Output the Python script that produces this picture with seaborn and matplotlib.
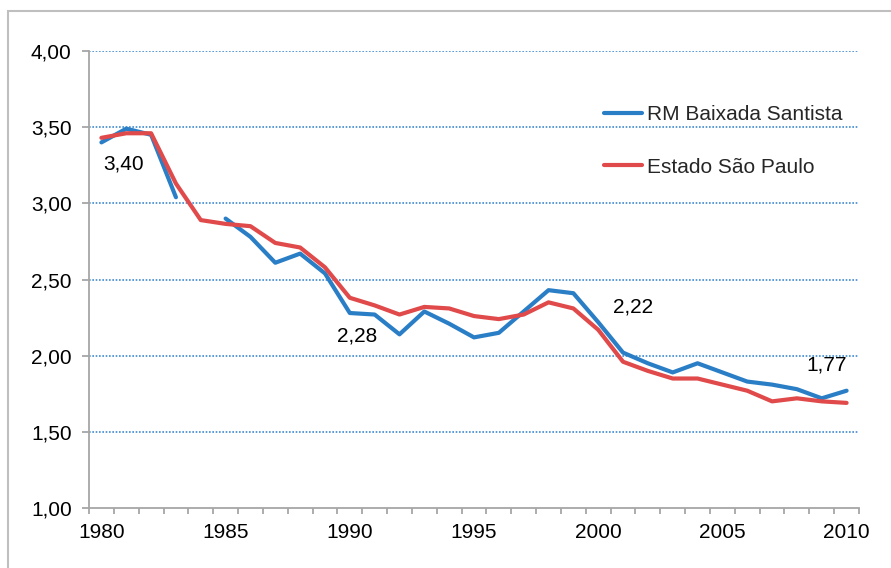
import numpy as np
import pandas as pd
import matplotlib
matplotlib.use("Agg")
import matplotlib.pyplot as plt
import matplotlib.ticker as mticker
from matplotlib.patches import Rectangle
import seaborn as sns

years = list(range(1980, 2011))
rm_baixada = [3.40, 3.49, 3.45, 3.04, np.nan, 2.90, 2.78, 2.61, 2.67, 2.54,
              2.28, 2.27, 2.14, 2.29, 2.21, 2.12, 2.15, 2.29, 2.43, 2.41,
              2.22, 2.02, 1.95, 1.89, 1.95, 1.89, 1.83, 1.81, 1.78, 1.72,
              1.77]
estado_sp = [3.43, 3.46, 3.46, 3.13, 2.89, 2.865, 2.85, 2.74, 2.71, 2.58,
             2.38, 2.33, 2.27, 2.32, 2.31, 2.26, 2.24, 2.27, 2.35, 2.31,
             2.17, 1.96, 1.90, 1.85, 1.85, 1.81, 1.77, 1.70, 1.72, 1.70,
             1.69]
series_names = ["RM Baixada Santista", "Estado São Paulo"]
labelled_years = [1980, 1990, 2000, 2010]
label_pos = {1980: (1980.9, 3.26), 1990: (1990.3, 2.13),
             2000: (2001.4, 2.32), 2010: (2009.2, 1.94)}
y_ticks = [1.0, 1.5, 2.0, 2.5, 3.0, 3.5, 4.0]
x_ticks = [1980, 1985, 1990, 1995, 2000, 2005, 2010]

rows = []
for name, vals in zip(series_names, [rm_baixada, estado_sp]):
    seg = 0
    for y, v in zip(years, vals):
        if np.isnan(v):
            seg += 1
            continue
        rows.append({"year": y, "value": v, "series": name, "seg": f"{name}-{seg}"})
df = pd.DataFrame(rows)

sns.set_theme(style="white")
plt.rcParams["font.family"] = ["Liberation Sans", "DejaVu Sans"]

FS = 15

fig = plt.figure(figsize=(8.91, 5.68), dpi=100)
ax = fig.add_axes([89/891, 1 - 508/568, (859-89)/891, (508-51)/568])

palette = {"RM Baixada Santista": "#2A7EC6", "Estado São Paulo": "#E04A4A"}
sns.lineplot(data=df, x="year", y="value", hue="series", units="seg",
             estimator=None, palette=palette, hue_order=series_names,
             linewidth=3.0, ax=ax, legend=True)

ax.set_xlim(1979.5, 2010.5)
ax.set_ylim(1.0, 4.0)
ax.set_xlabel("")
ax.set_ylabel("")
ax.set_yticks(y_ticks)
ax.set_xticks(x_ticks)
ax.set_xticks(np.arange(1979.5, 2011, 1.0), minor=True)
ax.yaxis.set_major_formatter(mticker.FuncFormatter(lambda v, p: f"{v:.2f}".replace(".", ",")))

for yv in y_ticks[1:]:
    ax.axhline(yv, color="#3F8AD0", linestyle=(0, (1, 1)), linewidth=1.2, zorder=0)

for s in ["top", "right"]:
    ax.spines[s].set_visible(False)
for s in ["left", "bottom"]:
    ax.spines[s].set_color("#A6A6A6")
    ax.spines[s].set_linewidth(1.3)

ax.tick_params(axis="y", which="major", length=5, width=1.3, color="#A6A6A6",
               labelsize=FS, pad=7.5, labelcolor="black", left=True)
ax.tick_params(axis="x", which="major", length=0, labelsize=FS, pad=10.5, labelcolor="black")
ax.tick_params(axis="x", which="minor", length=4, width=1.3, color="#A6A6A6", bottom=True)

# data labels
for yr in labelled_years:
    i = years.index(yr)
    v = rm_baixada[i]
    tx, ty = label_pos[yr]
    ax.text(tx, ty, f"{v:.2f}".replace(".", ","), ha="center", va="center",
            fontsize=FS, color="black")

handles, labels = ax.get_legend_handles_labels()
leg = ax.legend(handles, labels, loc="upper left", bbox_to_anchor=(0.644, 0.922),
                frameon=False, fontsize=FS, handlelength=1.85, handletextpad=0.25,
                labelspacing=1.6, borderpad=0.4)
for ln in leg.get_lines():
    ln.set_linewidth(3.0)

# outer chart frame
fig.add_artist(Rectangle((8/891, -0.05), 1.2, 1.05 - 11/568, transform=fig.transFigure,
                         fill=False, edgecolor="#BFBFBF", linewidth=1.5))

fig.savefig("out.png", dpi=100)
